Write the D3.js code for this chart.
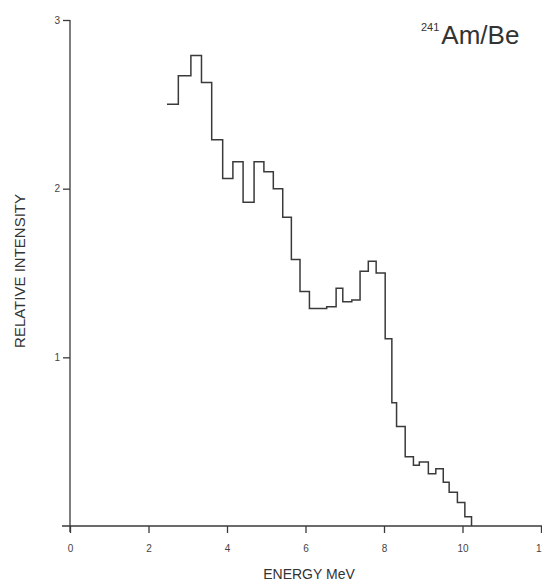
<!DOCTYPE html>
<html>
<head>
<meta charset="utf-8">
<script src="https://cdn.jsdelivr.net/npm/d3@7"></script>
<style>
  body { margin: 0; background: #fff; }
  svg { display: block; font-family: "Liberation Sans", Arial, sans-serif; }
</style>
</head>
<body>
<div id="chart"></div>
<script>
//
// data
//
var binEdges = [2.47, 2.76, 3.08, 3.35, 3.61, 3.89, 4.15, 4.41, 4.69, 4.94,
                5.18, 5.42, 5.64, 5.86, 6.10, 6.54, 6.78, 6.95, 7.18, 7.39,
                7.60, 7.80, 8.03, 8.20, 8.32, 8.54, 8.75, 8.90, 9.13, 9.32,
                9.51, 9.66, 9.87, 10.06, 10.23]
var intensity = [2.50, 2.67, 2.79, 2.63, 2.29, 2.06, 2.16, 1.92, 2.16, 2.10,
                 2.00, 1.83, 1.58, 1.39, 1.29, 1.30, 1.41, 1.33, 1.34, 1.51,
                 1.57, 1.50, 1.11, 0.73, 0.59, 0.41, 0.36, 0.38, 0.31, 0.34,
                 0.26, 0.20, 0.14, 0.055]
var xTicks = [0, 2, 4, 6, 8, 10, 12]
var yTicks = [1, 2, 3]

var width = 542, height = 581

var svg = d3.select('#chart').append('svg')
  .attr('width', width)
  .attr('height', height)

var x = d3.scaleLinear().domain([0, 12]).range([70, 541])
var y = d3.scaleLinear().domain([0, 3]).range([526, 20])

var ink = '#3a3a3a'

//
// axes
//
svg.append('line')
  .attr('x1', 62).attr('x2', width)
  .attr('y1', y(0)).attr('y2', y(0))
  .attr('stroke', ink).attr('stroke-width', 1.3)

svg.append('line')
  .attr('x1', x(0)).attr('x2', x(0))
  .attr('y1', y(3)).attr('y2', y(0) + 6)
  .attr('stroke', ink).attr('stroke-width', 1.3)

var gx = svg.append('g')
  .attr('transform', 'translate(0,' + y(0) + ')')
  .call(d3.axisBottom(x).tickValues(xTicks).tickFormat(d3.format('d'))
    .tickSize(7).tickPadding(12).tickSizeOuter(0))
gx.select('.domain').remove()
gx.selectAll('line').attr('stroke', ink).attr('stroke-width', 1.3)
gx.selectAll('text').attr('fill', '#444').style('font-size', '10px')

var gy = svg.append('g')
  .attr('transform', 'translate(' + x(0) + ',0)')
  .call(d3.axisLeft(y).tickValues(yTicks).tickFormat(d3.format('d'))
    .tickSize(7).tickPadding(3).tickSizeOuter(0))
gy.select('.domain').remove()
gy.selectAll('line').attr('stroke', ink).attr('stroke-width', 1.3)
gy.selectAll('text').attr('fill', '#444').style('font-size', '10px')

//
// histogram
//
var pts = binEdges.slice(0, intensity.length).map(function(e, i) { return [e, intensity[i]] })
pts.push([binEdges[binEdges.length - 1], 0])

var line = d3.line()
  .x(function(d) { return x(d[0]) })
  .y(function(d) { return y(d[1]) })
  .curve(d3.curveStepAfter)

svg.append('path')
  .attr('d', line(pts))
  .attr('fill', 'none')
  .attr('stroke', ink)
  .attr('stroke-width', 1.5)

//
// labels
//
svg.append('text')
  .attr('x', 309).attr('y', 579)
  .attr('text-anchor', 'middle')
  .attr('fill', '#333')
  .style('font-size', '14px')
  .text('ENERGY MeV')

svg.append('text')
  .attr('transform', 'translate(25,271) rotate(-90)')
  .attr('text-anchor', 'middle')
  .attr('fill', '#333')
  .style('font-size', '15px')
  .text('RELATIVE INTENSITY')

var tag = svg.append('text')
  .attr('x', 421).attr('y', 44)
  .attr('fill', '#333')
tag.append('tspan')
  .attr('dy', -13)
  .style('font-size', '11px')
  .text('241')
tag.append('tspan')
  .attr('dy', 13)
  .attr('dx', 2)
  .style('font-size', '26px')
  .text('Am/Be')
</script>
</body>
</html>
